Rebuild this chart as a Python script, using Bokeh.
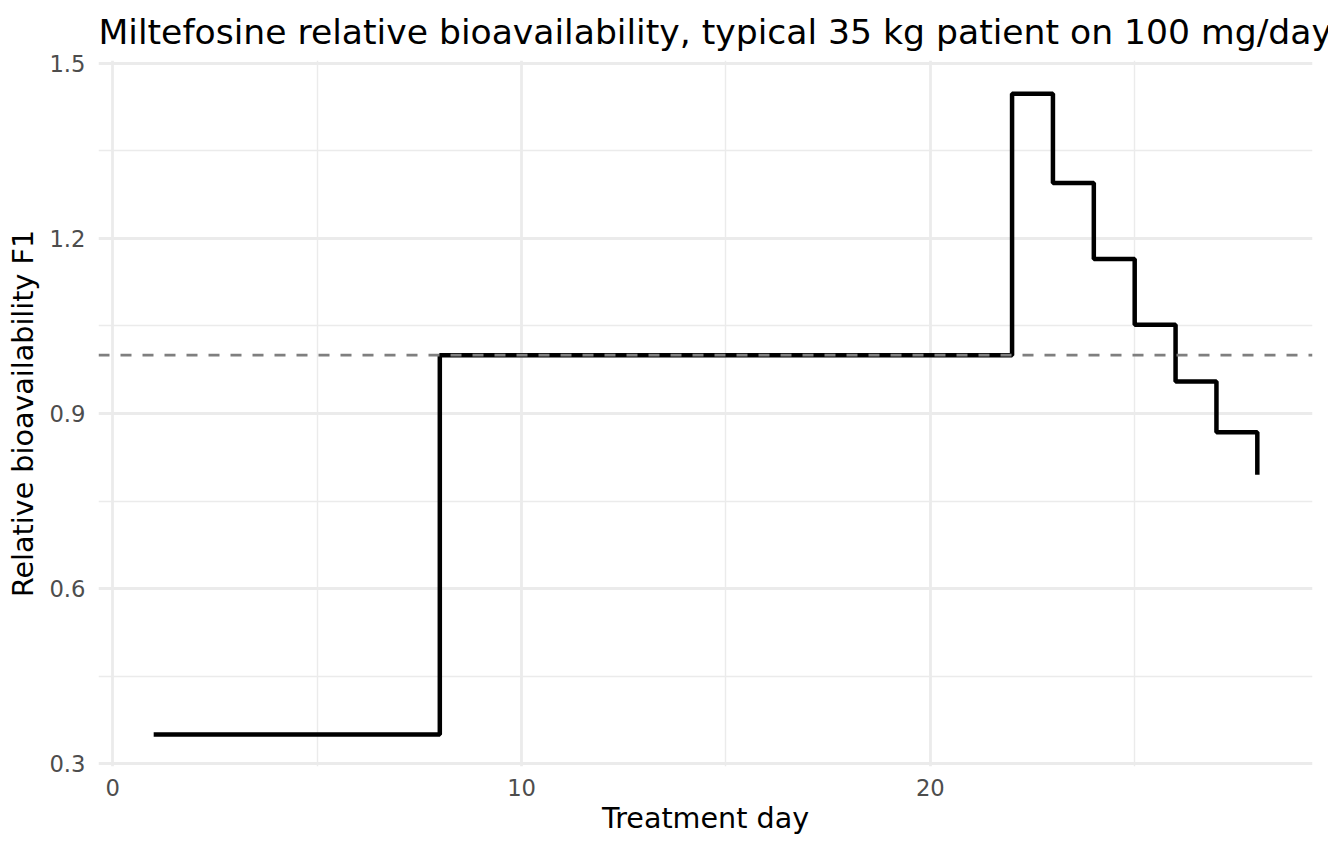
from bokeh.plotting import figure
from bokeh.models import Range1d, FixedTicker, Span
from bokeh.embed import file_html
from bokeh.resources import INLINE

# treatment day and typical relative bioavailability (F1)
days = [1, 2, 3, 4, 5, 6, 7, 8, 9, 10, 11, 12, 13, 14,
        15, 16, 17, 18, 19, 20, 21, 22, 23, 24, 25, 26, 27, 28]
f1 = [0.35, 0.35, 0.35, 0.35, 0.35, 0.35, 0.35,
      1.0, 1.0, 1.0, 1.0, 1.0, 1.0, 1.0,
      1.0, 1.0, 1.0, 1.0, 1.0, 1.0, 1.0,
      1.448, 1.295, 1.165, 1.052, 0.955, 0.868, 0.795]
reference_f1 = 1.0

x_ticks = [0, 10, 20]
x_minor = [5, 15, 25]
y_ticks = [0.3, 0.6, 0.9, 1.2, 1.5]
y_minor = [0.45, 0.75, 1.05, 1.35]

FONT = "DejaVu Sans"
GRID = "#EBEBEB"

p = figure(width=1328, height=848, output_backend="svg", toolbar_location=None,
           x_range=Range1d(-0.35, 29.35), y_range=Range1d(0.295, 1.505),
           title="Miltefosine relative bioavailability, typical 35 kg patient on 100 mg/day",
           min_border_left=98, min_border_right=16, min_border_top=60, min_border_bottom=82)

p.outline_line_color = None
p.background_fill_color = "white"
p.border_fill_color = "white"

p.title.text_font = FONT
p.title.text_font_size = "34.6px"
p.title.text_font_style = "normal"
p.title.text_color = "black"
p.title.align = "left"
p.title.standoff = 17

p.xaxis.ticker = FixedTicker(ticks=x_ticks, minor_ticks=x_minor)
p.yaxis.ticker = FixedTicker(ticks=y_ticks, minor_ticks=y_minor)

for ax in (p.xaxis[0], p.yaxis[0]):
    ax.axis_line_color = None
    ax.major_tick_line_color = None
    ax.minor_tick_line_color = None
    ax.major_tick_in = 0
    ax.major_tick_out = 0
    ax.minor_tick_in = 0
    ax.minor_tick_out = 0
    ax.major_label_text_font = FONT
    ax.major_label_text_font_size = "22.7px"
    ax.major_label_text_color = "#4D4D4D"
    ax.axis_label_text_font = FONT
    ax.axis_label_text_font_size = "28.6px"
    ax.axis_label_text_font_style = "normal"
    ax.axis_label_text_color = "black"

p.xaxis.axis_label = "Treatment day"
p.yaxis.axis_label = "Relative bioavailability F1"
p.xaxis.major_label_standoff = 12
p.yaxis.major_label_standoff = 13
p.xaxis.axis_label_standoff = 2
p.yaxis.axis_label_standoff = 6

for g in (p.xgrid[0], p.ygrid[0]):
    g.grid_line_color = GRID
    g.grid_line_width = 2.8
    g.minor_grid_line_color = GRID
    g.minor_grid_line_width = 1.4

p.step(days, f1, mode="after", line_color="black", line_width=4.5)

p.add_layout(Span(location=reference_f1, dimension="width", line_color="#7F7F7F",
                  line_width=2.8, line_dash="11 11"))

open("out.html", "w").write(file_html(p, INLINE))
